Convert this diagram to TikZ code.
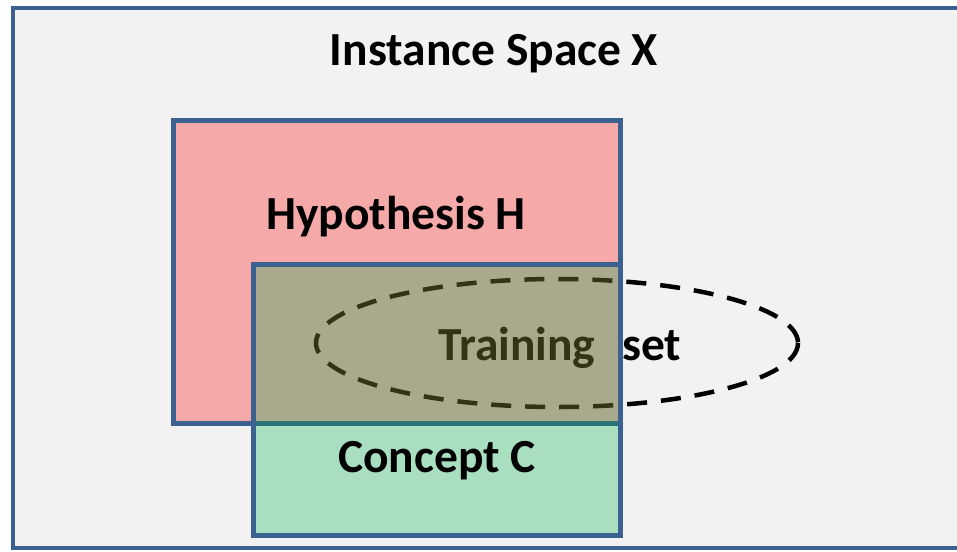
\documentclass[tikz,border=0pt]{standalone}
\usepackage{fontspec}
\setmainfont{Carlito}
\definecolor{bgray}{HTML}{F2F2F2}
\definecolor{bblue}{HTML}{3B6190}
\definecolor{hpink}{HTML}{F5A9A9}
\definecolor{cgreen}{HTML}{A9DFC1}
\definecolor{olive}{HTML}{A9AA8D}
\definecolor{dolive}{HTML}{333315}
\definecolor{tealine}{HTML}{2A7478}
\begin{document}
\begin{tikzpicture}[x=1pt,y=-1pt,
  lbl/.style={font=\fontsize{47.5}{52}\selectfont\bfseries, inner sep=0pt, anchor=base},
  box/.style={draw=bblue, line width=5pt},
  ell/.style={line width=4.5pt, dash pattern=on 20pt off 14pt}]
\useasboundingbox (0,0) rectangle (957,551);
\clip (0,0) rectangle (957,551);
% instance space
\draw[box, fill=bgray, line width=4.5pt] (13,8) rectangle (990,548);
% hypothesis
\fill[hpink] (173,120) rectangle (620,423);
\draw[box] (173,120) rectangle (620,423);
% concept fills
\fill[cgreen] (253,264) rectangle (620,535);
\fill[olive] (253,264) rectangle (620,423);
% training set ellipse (outside overlap)
\begin{scope}
  \clip (620,0) rectangle (957,551);
  \draw[ell, black] (557,343) ellipse [x radius=241, y radius=64];
\end{scope}
\begin{scope}
  \clip (253,264) rectangle (620,423);
  \draw[ell, dolive] (557,343) ellipse [x radius=241, y radius=64];
\end{scope}
% hypothesis bottom edge seen through concept
\draw[tealine, line width=5pt] (253,423) -- (620,423);
% concept border
\draw[box] (253,264) rectangle (620,535);
% labels
\node[lbl] (ix) at (494,66) {Instance Space X};
\node[lbl] (hh) at (396,229) {Hypothesis H};
\node[lbl, anchor=base west, text=dolive] (tr) at (438,360) {Training};
\node[lbl, anchor=base west] (st) at (622,360) {set};
\node[lbl] (cc) at (437,472) {Concept C};
\end{tikzpicture}
\end{document}
